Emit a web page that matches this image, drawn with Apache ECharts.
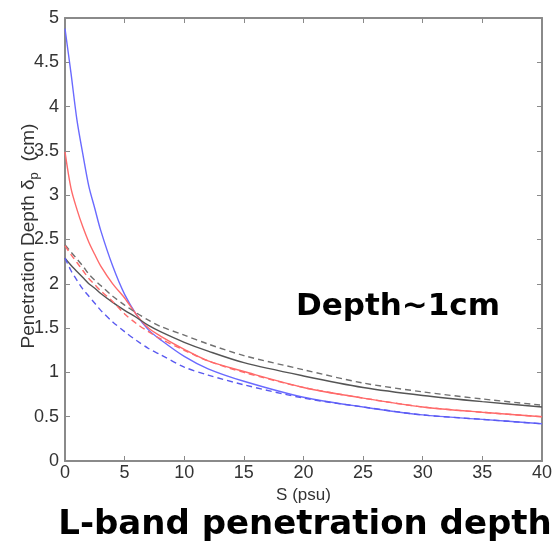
<!DOCTYPE html>
<html>
<head>
<meta charset="utf-8">
<script src="https://cdn.jsdelivr.net/npm/echarts@6/dist/echarts.min.js"></script>
<style>
html,body{margin:0;padding:0;background:#fff;}
#chart{width:555px;height:546px;}
</style>
</head>
<body>
<div id="chart"></div>
<script>
// Salinity (psu)
const salinity = [0, 0.5, 1, 1.5, 2, 2.5, 3, 4, 5, 6, 7, 8, 10, 12, 15, 20, 25, 30, 35, 40];
// Penetration depth (cm)
const blueSolid  = [4.88, 4.38, 3.85, 3.46, 3.10, 2.85, 2.60, 2.20, 1.88, 1.65, 1.48, 1.37, 1.18, 1.04, 0.90, 0.72, 0.61, 0.52, 0.47, 0.42];
const redSolid   = [3.49, 3.08, 2.84, 2.64, 2.47, 2.33, 2.20, 2.00, 1.84, 1.65, 1.50, 1.41, 1.26, 1.13, 1.01, 0.83, 0.71, 0.61, 0.55, 0.50];
const blackSolid = [2.29, 2.21, 2.14, 2.07, 2.00, 1.95, 1.89, 1.79, 1.70, 1.62, 1.53, 1.46, 1.34, 1.24, 1.11, 0.96, 0.83, 0.74, 0.67, 0.61];
const blackDash  = [2.44, 2.36, 2.28, 2.20, 2.11, 2.04, 1.98, 1.86, 1.76, 1.67, 1.59, 1.52, 1.42, 1.32, 1.19, 1.03, 0.88, 0.78, 0.70, 0.63];
const redDash    = [2.43, 2.33, 2.24, 2.15, 2.06, 1.99, 1.92, 1.80, 1.66, 1.55, 1.46, 1.38, 1.25, 1.13, 1.00, 0.83, 0.71, 0.61, 0.55, 0.50];
const blueDash   = [2.29, 2.15, 2.04, 1.94, 1.86, 1.78, 1.70, 1.57, 1.46, 1.36, 1.27, 1.20, 1.06, 0.97, 0.86, 0.71, 0.61, 0.52, 0.47, 0.42];

const xTitle = 'S (psu)';
const chartTitle = 'L-band penetration depth';
const note = 'Depth~1cm';

function pairs(ys){ return salinity.map((s,i)=>[s, ys[i]]); }

const chart = echarts.init(document.getElementById('chart'));
const axisColor = '#8a8a8a';
const labelFont = {color:'#333', fontFamily:'Liberation Sans, Arial, sans-serif', fontSize:18};

function line(name, data, color, dashed){
  return {
    name, type:'line', data:pairs(data), showSymbol:false, smooth:0.3,
    lineStyle:{color, width:1.4, type: dashed ? [6,4] : 'solid'},
    emphasis:{disabled:true}, animation:false
  };
}

chart.setOption({
  backgroundColor:'#fff',
  animation:false,
  grid:{left:65, right:11, top:18, bottom:85},
  xAxis:[{
    type:'value', min:0, max:40, interval:5,
    name:xTitle, nameLocation:'middle', nameGap:20,
    nameTextStyle:Object.assign({}, labelFont, {fontSize:17}),
    axisLine:{show:true, onZero:false, lineStyle:{color:axisColor, width:2}},
    axisTick:{show:true, inside:true, length:5, lineStyle:{color:axisColor}},
    axisLabel:Object.assign({margin:3}, labelFont),
    splitLine:{show:false}
  },{
    type:'value', position:'top', min:0, max:40, interval:5,
    axisLine:{show:true, onZero:false, lineStyle:{color:axisColor, width:2}},
    axisTick:{show:true, inside:true, length:5, lineStyle:{color:axisColor}},
    axisLabel:{show:false}, splitLine:{show:false}
  }],
  yAxis:[{
    type:'value', min:0, max:5, interval:0.5,
    axisLine:{show:true, onZero:false, lineStyle:{color:axisColor, width:2}},
    axisTick:{show:true, inside:true, length:5, lineStyle:{color:axisColor}},
    axisLabel:Object.assign({margin:6}, labelFont),
    splitLine:{show:false}
  },{
    type:'value', position:'right', min:0, max:5, interval:0.5,
    axisLine:{show:true, onZero:false, lineStyle:{color:axisColor, width:2}},
    axisTick:{show:true, inside:true, length:5, lineStyle:{color:axisColor}},
    axisLabel:{show:false}, splitLine:{show:false}
  }],
  series:[
    line('blue', blueSolid, '#6a6aff', false),
    line('red', redSolid, '#ff6a6a', false),
    line('black', blackSolid, '#555555', false),
    line('blackDash', blackDash, '#707070', true),
    line('redDash', redDash, '#ff6a6a', true),
    line('blueDash', blueDash, '#5a5af0', true)
  ],
  graphic:[
    {
      type:'text', x:29, y:236, rotation:Math.PI/2,
      style:{
        text:'{a|Penetration Depth δ}{s|p}{a|  (cm)}',
        align:'center', verticalAlign:'middle',
        rich:{
          a:{fontSize:19, fontFamily:'Liberation Sans, Arial, sans-serif', fill:'#333'},
          s:{fontSize:13, fontFamily:'Liberation Sans, Arial, sans-serif', fill:'#333', padding:[11,0,0,0]}
        }
      }
    },
    {
      type:'text', x:398, y:307,
      style:{text:note, align:'center', verticalAlign:'middle', fontSize:31, fontWeight:'bold',
        fontFamily:'DejaVu Sans, Verdana, sans-serif', fill:'#000'}
    },
    {
      type:'text', x:305, y:525,
      style:{text:chartTitle, align:'center', verticalAlign:'middle', fontSize:34, fontWeight:'bold',
        fontFamily:'DejaVu Sans, Verdana, sans-serif', fill:'#000'}
    }
  ]
});
</script>
</body>
</html>
